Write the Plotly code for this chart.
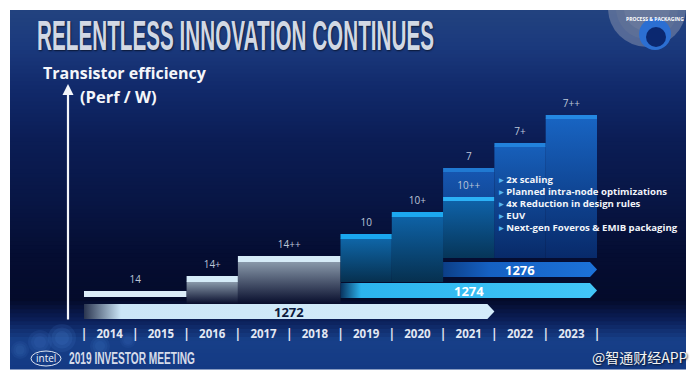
import plotly.graph_objects as go

# ---------------- data ----------------
years = [2014, 2015, 2016, 2017, 2018, 2019, 2020, 2021, 2022, 2023]
year_labels = [str(y) for y in years]

node_names = ["14", "14+", "14++", "10", "10+", "7", "10++", "7+", "7++"]
node_start = [2014, 2016, 2017, 2019, 2020, 2021, 2021, 2022, 2023]
node_end = [2016, 2017, 2019, 2020, 2021, 2022, 2022, 2023, 2024]
node_eff = [9, 24, 44, 66, 88, 132, 103, 157, 185]  # transistor efficiency (relative)

roadmap_names = ["1272", "1274", "1276"]
roadmap_start = [2014, 2019, 2021]
roadmap_end = [2022, 2024, 2024]

bullets = ["2x scaling", "Planned intra-node optimizations", "4x Reduction in design rules",
           "EUV", "Next-gen Foveros & EMIB packaging"]

# ---------------- geometry helpers (layout only, page pixel coords) ----------------
PAGE_OFF = 8                      # default body margin of the page
FW, FH = 699 - PAGE_OFF, 380 - PAGE_OFF
PL, PT, PR, PB = 10, 10, 686, 369  # plot area in page pixels
ML, MT = PL - PAGE_OFF, PT - PAGE_OFF
MR, MB = FW - ML - (PR - PL), FH - MT - (PB - PT)
YEAR_PX = 51.3
X_ORIGIN_PX = 84


def dx(px):  # page pixel x -> year axis
    return 2014 + (px - X_ORIGIN_PX) / YEAR_PX


def dy(py):  # page pixel y -> efficiency axis
    return 300 - py


def pxx(px):
    return (px - PL) / (PR - PL)


def pyy(py):
    return (PB - py) / (PB - PT)


FONT = "Open Sans, Noto Sans, DejaVu Sans, sans-serif"
COND = "Liberation Sans, Arial, sans-serif"

fig = go.Figure()
shapes = []
annotations = []


# ---------------- background ----------------
def h2r(h):
    h = h.lstrip('#')
    return tuple(int(h[i:i + 2], 16) for i in (0, 2, 4))


bg_stops = [(10, '#22427f'), (45, '#1b3a7d'), (90, '#11296a'), (140, '#0b1d55'),
            (200, '#081645'), (255, '#050d32'), (300, '#040b2a'), (320, '#0b1f58'),
            (340, '#173f88'), (369, '#143a84')]


def bg_color(py):
    for (a, ca), (b, cb) in zip(bg_stops[:-1], bg_stops[1:]):
        if a <= py <= b:
            t = (py - a) / (b - a)
            ra, rb = h2r(ca), h2r(cb)
            return 'rgb(%d,%d,%d)' % tuple(round(ra[k] + (rb[k] - ra[k]) * t) for k in range(3))
    return bg_stops[-1][1]


NB = 90
for i in range(NB):
    y0 = PT + i * (PB - PT) / NB
    y1 = y0 + (PB - PT) / NB
    shapes.append(dict(type='rect', xref='paper', yref='paper', x0=0, x1=1,
                       y0=pyy(y1 + 0.6), y1=pyy(y0), fillcolor=bg_color((y0 + y1) / 2),
                       line=dict(width=0), layer='below'))


def circle(cx, cy, r, color, **kw):
    return dict(type='circle', xref='x', yref='y', x0=dx(cx - r), x1=dx(cx + r),
                y0=dy(cy + r), y1=dy(cy - r), fillcolor=color, layer='below', **kw)


# soft bokeh glow at the lower left
for cx, cy, r, a in [(40, 342, 12, 0.16), (62, 338, 14, 0.2), (100, 346, 10, 0.15),
                     (128, 340, 8, 0.12), (20, 350, 9, 0.14)]:
    for k in range(3):
        shapes.append(circle(cx, cy, r * (1 - 0.25 * k), 'rgba(80,140,220,%.3f)' % (a * 0.6),
                             line=dict(width=0)))

# top-right badge
shapes.append(circle(647, 8, 39, 'rgba(140,150,176,0.50)', line=dict(width=0)))
shapes.append(circle(647, 8, 31, 'rgba(110,122,152,0.35)', line=dict(width=0)))
shapes.append(circle(647, 8, 23, 'rgba(130,140,168,0.30)', line=dict(width=0)))
shapes.append(circle(655, 34, 16, '#2c6fd2', line=dict(width=0)))
shapes.append(circle(656, 37, 10, '#0b2870', line=dict(width=0)))
annotations.append(dict(x=dx(655), y=dy(19), xref='x', yref='y', text='PROCESS & PACKAGING',
                        showarrow=False, textangle=0,
                        font=dict(family=FONT, size=5, color='white', weight='bold')))


# ---------------- node bars ----------------
def rect_trace(x0, x1, y0, y1, fill, gradient=None):
    kw = dict(x=[x0, x1, x1, x0, x0], y=[y0, y0, y1, y1, y0], mode='lines', fill='toself',
              line=dict(width=0), hoverinfo='skip', showlegend=False)
    if gradient:
        kw['fillgradient'] = dict(type=gradient[0], colorscale=gradient[1])
    else:
        kw['fillcolor'] = fill
    return go.Scatter(**kw)


# style per node: (base, strip height, strip color, body bottom color, body top color)
node_style = {
    "14": (3, 6, '#dcedf8', None, None),
    "14+": (-4, 6, '#d6ecf8', '#070d2c', '#8c9cac'),
    "14++": (-4, 6, '#d6ecf8', '#070d2c', '#8a9aab'),
    "10": (18, 5, '#1aa6ee', '#06304f', '#0f66a8'),
    "10+": (18, 5, '#1ca8f0', '#06304f', '#0e62a6'),
    "7": (42, 4, '#2079d2', '#0a2f6c', '#1656b0'),
    "10++": (42, 4, '#2cb2f6', '#063558', '#0f62a8'),
    "7+": (42, 4, '#2282dc', '#082a68', '#175fba'),
    "7++": (42, 4, '#2488e2', '#082a6a', '#1864c2'),
}

for name, s, e, v in zip(node_names, node_start, node_end, node_eff):
    base, sh, strip, cb, ct = node_style[name]
    if cb is not None:
        fig.add_trace(rect_trace(s, e, base, v - sh + 0.5, None,
                                 ('vertical', [[0, cb], [1, ct]])))
        fig.add_trace(rect_trace(s, e, v - sh, v, strip))
    else:
        fig.add_trace(rect_trace(s, e, base, v, strip))

# node labels
fig.add_trace(go.Scatter(x=[(s + e) / 2 for s, e in zip(node_start, node_end)],
                         y=[v + 11 for v in node_eff], text=node_names, mode='text',
                         textfont=dict(family=FONT, size=10, color='#bcc6d8'),
                         hoverinfo='skip', showlegend=False))

# ---------------- roadmap arrows ----------------
road_style = {
    "1272": (-11.5, [[0, '#2a3550'], [0.09, '#cbe6f7'], [1, '#d4ecfa']], '#0c1a3e'),
    "1274": (9.5, [[0, '#08325e'], [0.08, '#2cb4ee'], [1, '#42c6f8']], '#ffffff'),
    "1276": (30.5, [[0, '#0c3f88'], [0.3, '#1560c2'], [1, '#1c72d8']], '#ffffff'),
}
HALF = 7.6
TIP = 7 / YEAR_PX
for name, s, e in zip(roadmap_names, roadmap_start, roadmap_end):
    c, cs, tc = road_style[name]
    fig.add_trace(go.Scatter(x=[s, e - TIP, e, e - TIP, s, s],
                             y=[c + HALF, c + HALF, c, c - HALF, c - HALF, c + HALF],
                             mode='lines', fill='toself', line=dict(width=0),
                             fillgradient=dict(type='horizontal', colorscale=cs),
                             hoverinfo='skip', showlegend=False))
    annotations.append(dict(x=(s + e) / 2, y=c, xref='x', yref='y', text='<b>%s</b>' % name,
                            showarrow=False, font=dict(family=FONT, size=13, color=tc)))

# ---------------- year axis labels ----------------
fig.add_trace(go.Scatter(x=[y + 0.5 for y in years], y=[dy(335)] * len(years), text=year_labels,
                         mode='text', textfont=dict(family=FONT, size=11.5, color='#e2e8f4',
                                                    weight='bold'),
                         hoverinfo='skip', showlegend=False))
fig.add_trace(go.Scatter(x=years + [years[-1] + 1], y=[dy(334.5)] * (len(years) + 1),
                         text=['|'] * (len(years) + 1), mode='text',
                         textfont=dict(family=FONT, size=12, color='#e2e8f4', weight='bold'),
                         hoverinfo='skip', showlegend=False))

# ---------------- bullets ----------------
for i, b in enumerate(bullets):
    annotations.append(dict(x=dx(497), y=dy(179 + i * 12.2), xref='x', yref='y', xanchor='left',
                            text='<span style="color:#55b6f2">\u25B8</span> %s' % b,
                            showarrow=False,
                            font=dict(family=FONT, size=9.6, color='#f2f5fa', weight='bold')))

# ---------------- titles / axis arrow ----------------
annotations.append(dict(x=dx(35), y=dy(35), xref='x', yref='y', xanchor='left',
                        text='RELENTLESS INNOVATION CONTINUES', showarrow=False,
                        font=dict(family=COND, size=43, color='#d2d8e4', weight='bold',
                                  shadow='1px 1px 2px rgba(0,0,0,0.6)')))
annotations.append(dict(x=dx(41), y=dy(73), xref='x', yref='y', xanchor='left',
                        text='Transistor efficiency', showarrow=False,
                        font=dict(family=FONT, size=16, color='#f4f6fa', weight='bold')))
annotations.append(dict(x=dx(78), y=dy(96), xref='x', yref='y', xanchor='left',
                        text='(Perf / W)', showarrow=False,
                        font=dict(family=FONT, size=16.5, color='#f4f6fa', weight='bold')))
annotations.append(dict(x=dx(68), y=dy(84), ax=dx(68), ay=dy(321), xref='x', yref='y',
                        axref='x', ayref='y', text='', showarrow=True, arrowhead=2,
                        arrowsize=1.0, arrowwidth=2.2, arrowcolor='#f4f6fa'))

# footer
shapes.append(dict(type='circle', xref='x', yref='y', x0=dx(31), x1=dx(61), y0=dy(366), y1=dy(351),
                   fillcolor='rgba(0,0,0,0)', line=dict(width=1, color='#dfe6f2')))
annotations.append(dict(x=dx(46), y=dy(358), xref='x', yref='y', text='intel', showarrow=False,
                        font=dict(family=FONT, size=10, color='#eef2f8')))
annotations.append(dict(x=dx(67), y=dy(358), xref='x', yref='y', xanchor='left',
                        text='2019 INVESTOR MEETING', showarrow=False,
                        font=dict(family=COND, size=17, color='#d6dcea', weight='bold')))
annotations.append(dict(x=pxx(690), y=pyy(357), xref='paper', yref='paper', xanchor='right',
                        yanchor='middle', text='@智通财经APP', showarrow=False,
                        font=dict(family='Noto Sans CJK SC, sans-serif', size=14, color='#f4f4f4',
                                  shadow='1px 1px 2px rgba(0,0,0,0.8)')))

fig.update_layout(
    width=FW, height=FH,
    margin=dict(l=ML, r=MR, t=MT, b=MB, pad=0),
    paper_bgcolor='white', plot_bgcolor='#0a1a50',
    xaxis=dict(range=[dx(PL), dx(PR)], visible=False, fixedrange=True),
    yaxis=dict(range=[dy(PB), dy(PT)], visible=False, fixedrange=True),
    shapes=shapes, annotations=annotations, showlegend=False,
)

# condense the slide's narrow display type (title / footer) to its original width
post = """
var gd = document.getElementById('{plot_id}');
var targets = [['RELENTLESS', 397], ['2019 INVESTOR', 126]];
gd.querySelectorAll('text.annotation-text').forEach(function(t){
  targets.forEach(function(tg){
    if (t.textContent.indexOf(tg[0]) === 0) {
      var w = t.getBBox().width;
      t.style.transformBox = 'fill-box';
      t.style.transformOrigin = 'left center';
      t.style.transform = 'scaleX(' + (tg[1] / w) + ')';
    }
  });
});
"""

fig.write_html("out.html", post_script=post)
